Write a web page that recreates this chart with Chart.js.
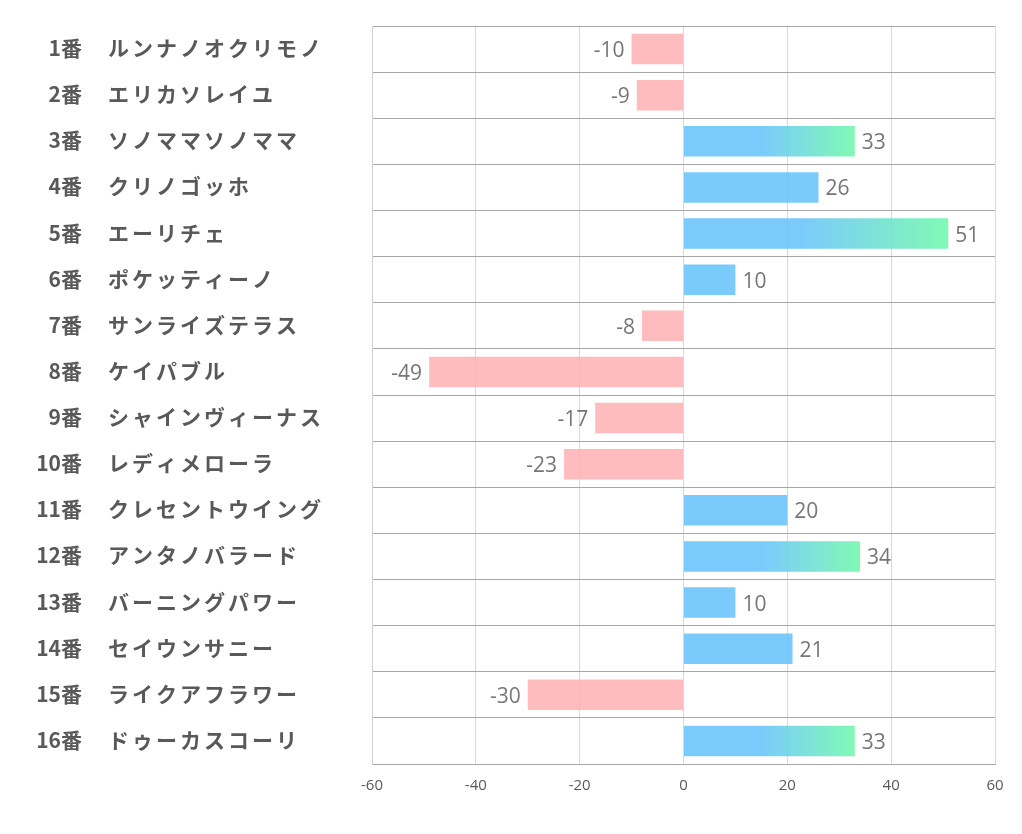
<!DOCTYPE html>
<html><head><meta charset="utf-8">
<script src="https://cdn.jsdelivr.net/npm/chart.js@4.4.1/dist/chart.umd.min.js"></script>
<style>html,body{margin:0;padding:0;background:#fff;}#wrap{width:1022px;height:834px;}</style>
</head><body><div id="wrap"><canvas id="c" width="1022" height="834"></canvas></div>
<script>
const numbers = ["1番","2番","3番","4番","5番","6番","7番","8番","9番","10番","11番","12番","13番","14番","15番","16番"];
const names = ["ルンナノオクリモノ","エリカソレイユ","ソノママソノママ","クリノゴッホ","エーリチェ","ポケッティーノ","サンライズテラス","ケイパブル","シャインヴィーナス","レディメローラ","クレセントウイング","アンタノバラード","バーニングパワー","セイウンサニー","ライクアフラワー","ドゥーカスコーリ"];
const values = [-10,-9,33,26,51,10,-8,-49,-17,-23,20,34,10,21,-30,33];
const xTicks = [-60,-40,-20,0,20,40,60];

const BLUE = 'rgba(99,194,252,0.85)';
const GREEN = 'rgba(106,248,168,0.85)';
const PINK = 'rgba(255,176,179,0.85)';

const labelPlugin = {
  id: 'labels',
  afterDatasetsDraw(chart) {
    const ctx = chart.ctx;
    const y = chart.scales.y;
    ctx.save();
    ctx.fillStyle = '#595959';
    ctx.font = 'bold 21px "Noto Sans CJK JP"';
    ctx.textBaseline = 'middle';
    numbers.forEach((n, i) => {
      const py = y.getPixelForValue(i) - 1;
      ctx.textAlign = 'right';
      ctx.letterSpacing = '0px';
      ctx.fillText(n, 82, py);
      ctx.textAlign = 'left';
      ctx.letterSpacing = '3px';
      ctx.fillText(names[i], 108, py);
    });
    ctx.letterSpacing = '0px';
    ctx.fillStyle = '#767676';
    ctx.font = '21px "Open Sans"';
    const meta = chart.getDatasetMeta(0);
    meta.data.forEach((bar, i) => {
      const v = values[i];
      if (v >= 0) { ctx.textAlign = 'left'; ctx.fillText(String(v), bar.x + 7, bar.y + 2); }
      else { ctx.textAlign = 'right'; ctx.fillText(String(v), bar.x - 7, bar.y + 2); }
    });
    ctx.restore();
  }
};

new Chart(document.getElementById('c'), {
  type: 'bar',
  data: {
    labels: names,
    datasets: [{
      data: values,
      backgroundColor(context) {
        const v = context.raw;
        if (v < 0) return PINK;
        if (v <= 30) return BLUE;
        const chart = context.chart;
        if (!chart.chartArea) return BLUE;
        const xs = chart.scales.x;
        const x0 = xs.getPixelForValue(0), x1 = xs.getPixelForValue(v);
        const g = chart.ctx.createLinearGradient(x0, 0, x1, 0);
        g.addColorStop(0, BLUE);
        g.addColorStop(0.45, BLUE);
        g.addColorStop(1, GREEN);
        return g;
      },
      borderWidth: 0,
      barPercentage: 0.66,
      categoryPercentage: 1.0
    }]
  },
  options: {
    indexAxis: 'y',
    responsive: false,
    animation: false,
    layout: { padding: { left: 372, top: 26, right: 27, bottom: 26 } },
    plugins: { legend: { display: false }, tooltip: { enabled: false } },
    scales: {
      x: {
        min: -60, max: 60,
        afterBuildTicks(axis) { axis.ticks = xTicks.map(v => ({ value: v })); },
        grid: { color: '#d9d9d9', lineWidth: 1, drawTicks: false },
        border: { display: true, color: '#a6a6a6', width: 1 },
        ticks: { color: '#595959', font: { family: '"Open Sans"', size: 15 }, padding: 13 }
      },
      y: {
        offset: true,
        grid: { offset: true, color: '#a6a6a6', lineWidth: 1, drawTicks: false },
        border: { display: true, color: '#d0d0d0', width: 1 },
        ticks: { display: false }
      }
    }
  },
  plugins: [labelPlugin]
});
</script></body></html>
